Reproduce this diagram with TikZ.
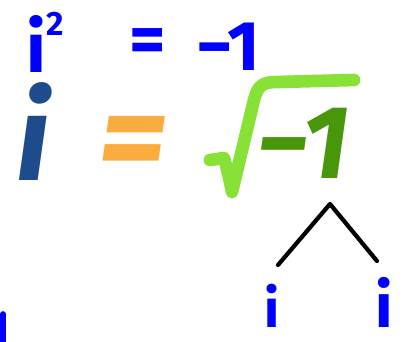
\documentclass[tikz,border=0pt]{standalone}
\usepackage{fontspec}
\setmainfont{Fira Sans}
\usetikzlibrary{positioning}
\definecolor{penblue}{RGB}{0,0,255}
\definecolor{idarkblue}{RGB}{30,75,140}
\definecolor{eqorange}{RGB}{250,172,62}
\definecolor{rootgreen}{RGB}{135,225,55}
\definecolor{numgreen}{RGB}{72,150,10}

\tikzset{
  pen/.style={penblue, inner sep=0pt, font=\fontsize{50}{52}\selectfont\bfseries},
  bigsym/.style={inner sep=0pt, font=\fontsize{86}{86}\selectfont\bfseries\itshape},
  caret/.style={black, line width=3pt, line cap=round, line join=round},
}

\begin{document}
\begin{tikzpicture}[x=0.025cm, y=-0.025cm]
  \useasboundingbox (0,0) rectangle (416,342);
  % handwritten line on top
  \node[pen, anchor=base west] (hi) at (26,72) {i};
  \node[pen, anchor=base west, font=\fontsize{24}{26}\selectfont\bfseries] (htwo) at (46,35) {2};
  \node[pen] (heq) at (148,46) {=};
  \node[pen, anchor=base west] (hnum) at (196,70) {−1};
  % the big formula
  \node[bigsym, idarkblue, anchor=base west] (bigi) at (16,180) {i};
  \node[bigsym, eqorange, font=\fontsize{96}{96}\selectfont\bfseries\itshape] (bigeq) at (133,150) {=};
  \draw[rootgreen, line width=9pt, line cap=round, line join=round]
    (210,160) -- (224,158) .. controls (228,172) and (230,182) .. (232,192)
    -- (254,100) .. controls (258,84) and (264,82) .. (278,82) -- (354,80);
  \node[bigsym, numgreen, anchor=base east, font=\fontsize{74}{74}\selectfont\bfseries\itshape]
    (bignum) at (350,178) {−1};
  % split into two roots
  \coordinate (apex) at (330,204);
  \coordinate (legL) at (278,265);
  \coordinate (legR) at (377,261);
  \draw[caret] (legL) -- (apex) -- (legR);
  \node[pen, anchor=base, font=\fontsize{38}{40}\selectfont\bfseries] (iL) at (272,327) {i};
  \node[pen, anchor=base, font=\fontsize{44}{46}\selectfont\bfseries] (iR) at (384,327) {i};
  % cut-off stroke at the left edge
  \draw[penblue, line width=4pt, line cap=round] (3,314) -- (3,350);
\end{tikzpicture}
\end{document}
